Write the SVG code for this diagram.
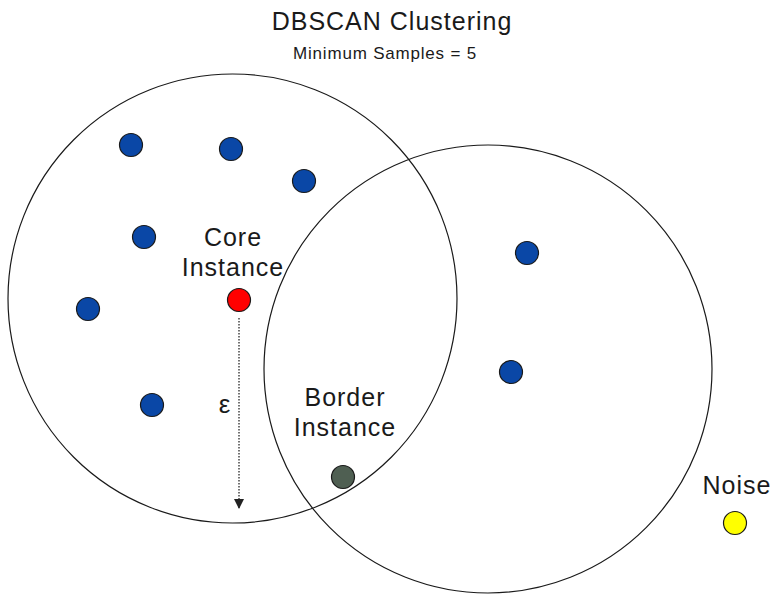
<svg xmlns="http://www.w3.org/2000/svg" width="778" height="604" viewBox="0 0 778 604">
<style>
text{font-family:"Liberation Sans",Arial,sans-serif;fill:#1a1a1a;text-anchor:middle}
.lbl{font-size:25px;letter-spacing:1px}
.ring{fill:none;stroke:#1a1a1a;stroke-width:1.2}
.pt{stroke:#1a1a1a;stroke-width:1.2}
.blue{fill:#0a47a6}
</style>
<defs>
<marker id="ah" viewBox="0 0 10 10" refX="9" refY="5" markerWidth="10" markerHeight="10" markerUnits="userSpaceOnUse" orient="auto">
<path d="M0,0 L10,5 L0,10 z" fill="#222"/>
</marker>
</defs>
<rect width="778" height="604" fill="#fff"/>
<text x="392" y="30" style="font-size:25px;letter-spacing:1px">DBSCAN Clustering</text>
<text x="385" y="59" style="font-size:17px;letter-spacing:0.8px">Minimum Samples = 5</text>
<g id="neighborhoods">
<circle class="ring" cx="232.5" cy="298.5" r="224.5"/>
<circle class="ring" cx="488" cy="369" r="224"/>
</g>
<g id="connectors">
<line x1="239" y1="318" x2="239" y2="508" stroke="#444" stroke-width="1.5" stroke-dasharray="1.5,1.5" marker-end="url(#ah)"/>
<text x="225" y="413" class="lbl" style="font-size:26px">ε</text>
</g>
<g id="core">
<text x="233" y="246" class="lbl">Core</text>
<text x="233" y="276" class="lbl">Instance</text>
<circle class="pt" cx="239" cy="300" r="11.5" fill="#f00"/>
</g>
<g id="border">
<text x="345" y="406" class="lbl">Border</text>
<text x="345" y="436" class="lbl">Instance</text>
<circle class="pt" cx="343" cy="477" r="11.5" fill="#4f5f52"/>
</g>
<g id="noise">
<text x="737" y="494" class="lbl">Noise</text>
<circle class="pt" cx="735" cy="523" r="11.5" fill="#ffff00"/>
</g>
<g id="points">
<circle class="pt blue" cx="131" cy="145" r="11.5"/>
<circle class="pt blue" cx="231" cy="149" r="11.5"/>
<circle class="pt blue" cx="304" cy="181" r="11.5"/>
<circle class="pt blue" cx="144" cy="237" r="11.5"/>
<circle class="pt blue" cx="88" cy="309" r="11.5"/>
<circle class="pt blue" cx="152" cy="405" r="11.5"/>
<circle class="pt blue" cx="527" cy="253" r="11.5"/>
<circle class="pt blue" cx="511" cy="372" r="11.5"/>
</g>
</svg>
